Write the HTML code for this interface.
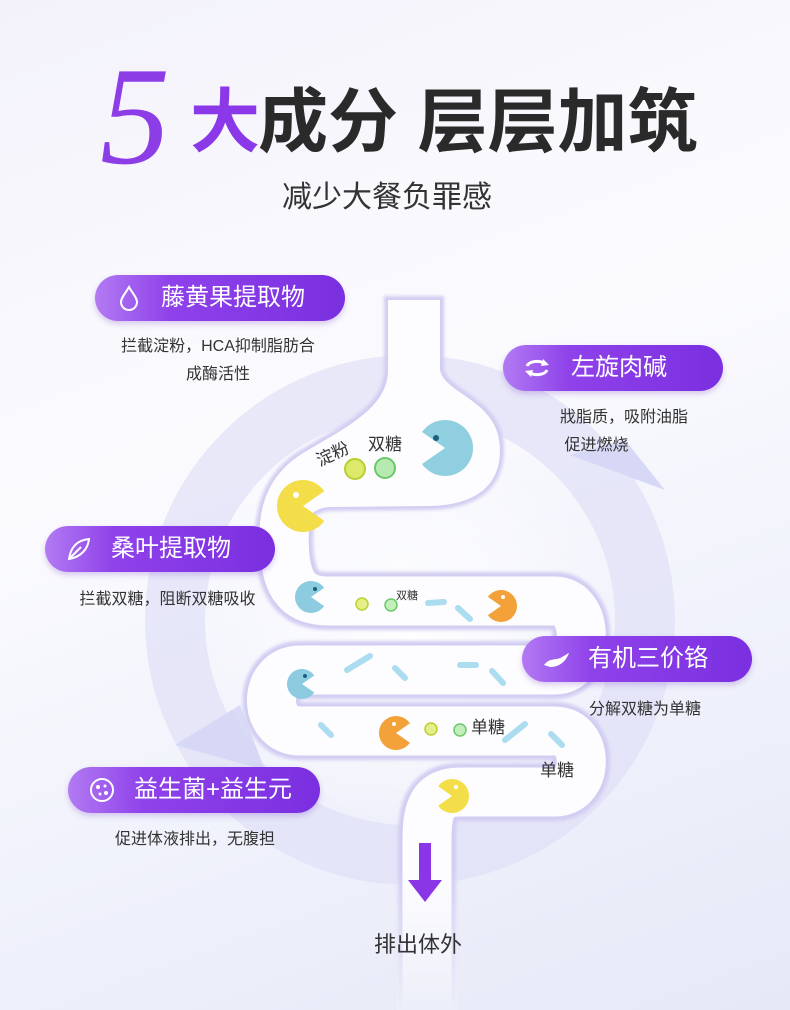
<!DOCTYPE html>
<html><head><meta charset="utf-8"><style>
body{margin:0}
#c{position:relative;width:790px;height:1010px;overflow:hidden;background:linear-gradient(160deg,#f3f2fb 0%,#fbfbfe 40%,#eef0fb 75%,#e6e8f6 100%);font-family:"Liberation Sans","Noto Sans CJK SC",sans-serif;color:#333}
.t{position:absolute;white-space:nowrap}
.pill{position:absolute;height:46px;border-radius:23px;background:linear-gradient(90deg,#b27af2 0%,#8f42ea 30%,#7a2fe0 100%);color:#fff;font-size:24px;line-height:46px;box-shadow:0 3px 6px rgba(120,60,200,.25)}
.pill span{position:absolute;left:66px}
.ic{position:absolute;left:20px;top:9px;width:28px;height:28px}
.d{font-size:16px;color:#333;line-height:28px;text-align:center}
</style></head><body><div id="c">
<svg width="790" height="1010" style="position:absolute;left:0;top:0">
<defs>
<radialGradient id="bg" cx="50%" cy="55%" r="50%"><stop offset="0" stop-color="#fff" stop-opacity="0.9"/><stop offset="1" stop-color="#fff" stop-opacity="0"/></radialGradient>
<linearGradient id="fade" x1="0" y1="0" x2="0" y2="1"><stop offset="0" stop-color="#f0f1fa" stop-opacity="0"/><stop offset="1" stop-color="#eceef9" stop-opacity="1"/></linearGradient>
<filter id="bl"><feGaussianBlur stdDeviation="1.5"/></filter>
</defs>
<circle cx="410" cy="620" r="235" fill="none" stroke="#dfe0f7" stroke-width="60" opacity="0.7"/>
<polygon points="570,455 625,440 665,490" fill="#d6d8f6"/>
<polygon points="175,745 240,705 265,770" fill="#d6d8f6"/>
<circle cx="410" cy="620" r="200" fill="url(#bg)"/>
<g filter="url(#bl)">
<g fill="none" stroke="#d2cdf2" stroke-width="58" stroke-linejoin="round">
<path d="M285,520 C280,590 300,601 330,601 L555,601 C590,601 590,670 555,670 L300,670 C262,670 262,731 300,731 L555,731 C590,731 590,792 555,792 L460,792 C432,792 427,810 427,840 L427,1010"/>
</g>
<path d="M388,300 L440,300 L440,370 C445,395 500,400 500,450 C500,490 470,505 430,506 L330,507 C300,508 300,540 310,560 L262,560 C255,520 262,480 300,455 C340,430 388,410 388,370 Z" fill="#d2cdf2" stroke="#d2cdf2" stroke-width="8"/>
</g>
<g fill="none" stroke="#fdfdff" stroke-width="49" stroke-linejoin="round">
<path d="M285,520 C280,590 300,601 330,601 L555,601 C590,601 590,670 555,670 L300,670 C262,670 262,731 300,731 L555,731 C590,731 590,792 555,792 L460,792 C432,792 427,810 427,840 L427,1010"/>
</g>
<path d="M388,300 L440,300 L440,370 C445,395 500,400 500,450 C500,490 470,505 430,506 L330,507 C300,508 300,540 310,560 L262,560 C255,520 262,480 300,455 C340,430 388,410 388,370 Z" fill="#fdfdff"/>
<rect x="396" y="870" width="62" height="140" fill="url(#fade)"/>
<defs><path id="pm" d="M0,0 L0.82,-0.57 A1,1 0 1 0 0.82,0.57 Z"/></defs>
<use href="#pm" fill="#8fcfe0" transform="translate(445,448) scale(-28,28)"/>
<circle cx="436" cy="438" r="3" fill="#1b5f80"/>
<use href="#pm" fill="#f3de4a" transform="translate(303,506) scale(26)"/>
<circle cx="296" cy="495" r="3" fill="#fff"/>
<use href="#pm" fill="#8ccbe0" transform="translate(311,597) scale(16)"/>
<circle cx="315" cy="589" r="2" fill="#1b5f80"/>
<use href="#pm" fill="#f3a23a" transform="translate(501,606) scale(-16,16)"/>
<circle cx="503" cy="597" r="2" fill="#fff"/>
<use href="#pm" fill="#8ccbe0" transform="translate(302,684) scale(15)"/>
<circle cx="305" cy="676" r="2" fill="#1b5f80"/>
<use href="#pm" fill="#f3a23a" transform="translate(396,733) scale(17)"/>
<circle cx="394" cy="724" r="2" fill="#fff"/>
<use href="#pm" fill="#f3de4a" transform="translate(452,796) scale(-17,17)"/>
<circle cx="456" cy="787" r="2" fill="#fff"/>
<circle cx="355" cy="469" r="10" fill="#dce96a" stroke="#b9cf30" stroke-width="2"/>
<circle cx="385" cy="468" r="10" fill="#b7eab0" stroke="#6cc86a" stroke-width="2"/>
<circle cx="362" cy="604" r="6" fill="#e6ee8a" stroke="#bcd030" stroke-width="1.5"/>
<circle cx="391" cy="605" r="6" fill="#c2efba" stroke="#6cc86a" stroke-width="1.5"/>
<circle cx="431" cy="729" r="6" fill="#e6ee8a" stroke="#bcd030" stroke-width="1.5"/>
<circle cx="460" cy="730" r="6" fill="#c2efba" stroke="#6cc86a" stroke-width="1.5"/>
<g stroke="#acdcf0" stroke-width="6" stroke-linecap="round">
<line x1="428" y1="603" x2="444" y2="602"/><line x1="458" y1="608" x2="470" y2="619"/>
<line x1="347" y1="670" x2="370" y2="656"/><line x1="395" y1="668" x2="405" y2="678"/>
<line x1="460" y1="665" x2="476" y2="665"/><line x1="492" y1="671" x2="503" y2="683"/>
<line x1="321" y1="725" x2="331" y2="735"/><line x1="505" y1="740" x2="525" y2="724"/>
<line x1="551" y1="734" x2="562" y2="745"/>
</g>
<rect x="419" y="843" width="12" height="40" fill="#8a35e6"/>
<polygon points="408,880 442,880 425,902" fill="#8a35e6"/>
</svg>

<div class="t" style="left:100px;top:52px;font-family:'Liberation Serif',serif;font-style:italic;font-size:140px;color:#8d3de6;line-height:130px">5</div>
<div class="t" style="left:190px;top:80px;font-size:70px;line-height:84px;color:#8a38e8;font-weight:bold">大</div>
<div class="t" style="left:258px;top:80px;font-size:70px;line-height:84px;color:#2a2a2a;font-weight:bold">成分 层层加筑</div>
<div class="t" style="left:282px;top:178px;font-size:30px;line-height:40px;color:#333">减少大餐负罪感</div>

<div class="pill" style="left:95px;top:275px;width:250px"><svg class="ic" viewBox="0 0 28 28"><path d="M14,3 C10,10 6,14 6,18 A8,8 0 0 0 22,18 C22,14 18,10 14,3Z" fill="none" stroke="#fff" stroke-width="2"/></svg><span>藤黄果提取物</span></div>
<div class="t d" style="left:88px;top:333px;width:260px">拦截淀粉，HCA抑制脂肪合<br>成酶活性</div>

<div class="pill" style="left:503px;top:345px;width:220px"><svg class="ic" viewBox="0 0 28 28"><path d="M4,12 A10,6 0 0 1 22,10 M24,16 A10,6 0 0 1 6,18" fill="none" stroke="#fff" stroke-width="3"/><polygon points="20,5 26,11 18,12" fill="#fff"/><polygon points="8,23 2,17 10,16" fill="#fff"/></svg><span style="left:68px">左旋肉碱</span></div>
<div class="t d" style="left:560px;top:404px;width:160px;text-align:left">戕脂质，吸附油脂<br>&nbsp;促进燃烧</div>

<div class="pill" style="left:45px;top:526px;width:230px"><svg class="ic" viewBox="0 0 28 28"><path d="M4,24 C6,10 14,5 24,4 C23,14 16,22 4,24Z M4,24 L16,12" fill="none" stroke="#fff" stroke-width="2"/></svg><span>桑叶提取物</span></div>
<div class="t d" style="left:50px;top:586px;width:235px">拦截双糖，阻断双糖吸收</div>

<div class="pill" style="left:522px;top:636px;width:230px"><svg class="ic" viewBox="0 0 28 28"><path d="M2,20 C8,12 14,16 20,12 C24,10 26,8 27,8 C24,16 18,22 8,22 Z" fill="#fff"/></svg><span>有机三价铬</span></div>
<div class="t d" style="left:570px;top:696px;width:150px">分解双糖为单糖</div>

<div class="pill" style="left:68px;top:767px;width:252px"><svg class="ic" viewBox="0 0 28 28"><circle cx="14" cy="14" r="11" fill="none" stroke="#fff" stroke-width="2"/><circle cx="10" cy="11" r="2" fill="#fff"/><circle cx="17" cy="10" r="1.5" fill="#fff"/><circle cx="12" cy="18" r="1.5" fill="#fff"/><circle cx="18" cy="17" r="2" fill="#fff"/></svg><span>益生菌+益生元</span></div>
<div class="t d" style="left:90px;top:826px;width:210px">促进体液排出，无腹担</div>

<div class="t" style="left:315px;top:440px;font-size:17px;transform:rotate(-25deg)">淀粉</div>
<div class="t" style="left:368px;top:430px;font-size:17px">双糖</div>
<div class="t" style="left:396px;top:587px;font-size:11px">双糖</div>
<div class="t" style="left:471px;top:713px;font-size:17px">单糖</div>
<div class="t" style="left:540px;top:756px;font-size:17px">单糖</div>
<div class="t" style="left:374px;top:930px;font-size:22px;line-height:30px">排出体外</div>
</div></body></html>
